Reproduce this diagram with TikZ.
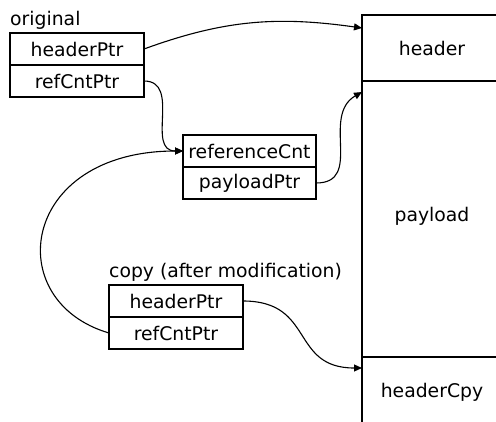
\documentclass[tikz,border=0pt]{standalone}
\usepackage{fontspec}
\setmainfont{DejaVu Sans}
\usetikzlibrary{arrows.meta}
\begin{document}
\begin{tikzpicture}[x=1pt,y=-1pt,
  txt/.style={font=\fontsize{18.8}{22}\selectfont},
  cell/.style={txt, draw, line width=1.2pt, minimum width=134pt, minimum height=32pt, inner sep=0pt, outer sep=0pt},
  mem/.style={txt, draw, line width=1.2pt, minimum width=140pt, inner sep=0pt, outer sep=0pt, anchor=north west},
  ptr/.style={line width=1.1pt, -{Triangle[length=8pt,width=7pt]}}]
\useasboundingbox (0,0) rectangle (496,421);
\fill[white] (0,0) rectangle (496,421);

% memory block on the right, cut off by the page edge
\begin{scope}
  \clip (0,0) rectangle (496,421);
  \node[mem, minimum height=66pt] (hdr) at (362,15) {header};
  \node[mem, minimum height=276pt] (pay) at (362,81) {\raisebox{9pt}{payload}};
  \node[mem, minimum height=70pt] (cpy) at (362,357) {headerCpy};
\end{scope}

% original smart pointer
\node[txt, anchor=south west, inner sep=0pt] (lorig) at (10,30) {original};
\node[cell, anchor=north west] (o1) at (10,33) {headerPtr};
\node[cell, anchor=north] (o2) at (o1.south) {refCntPtr};

% shared reference counter
\node[cell, minimum width=133pt, anchor=north west] (r1) at (183,135) {referenceCnt};
\node[cell, minimum width=133pt, anchor=north] (r2) at (r1.south) {payloadPtr};

% copy after modification
\node[txt, anchor=south west, inner sep=0pt] (lcopy) at (109,282) {copy (after modification)};
\node[cell, anchor=north west] (c1) at (109,285) {headerPtr};
\node[cell, anchor=north] (c2) at (c1.south) {refCntPtr};

% pointers
\draw[ptr] (o1.east) to[out=20,in=172] ([yshift=-13pt]hdr.north west);
\draw[ptr] (o2.east) to[out=0,in=180,looseness=1.2] (r1.west);
\draw[ptr] (r2.east) to[out=0,in=210,looseness=1.2] ([yshift=-11pt]pay.north west);
\draw[ptr] (c1.east) to[out=0,in=180,looseness=1.35] ([yshift=-11pt]cpy.north west);
\draw[ptr] (c2.west) .. controls +(-109,-32) and +(-163,0) .. (r1.west);
\end{tikzpicture}
\end{document}
